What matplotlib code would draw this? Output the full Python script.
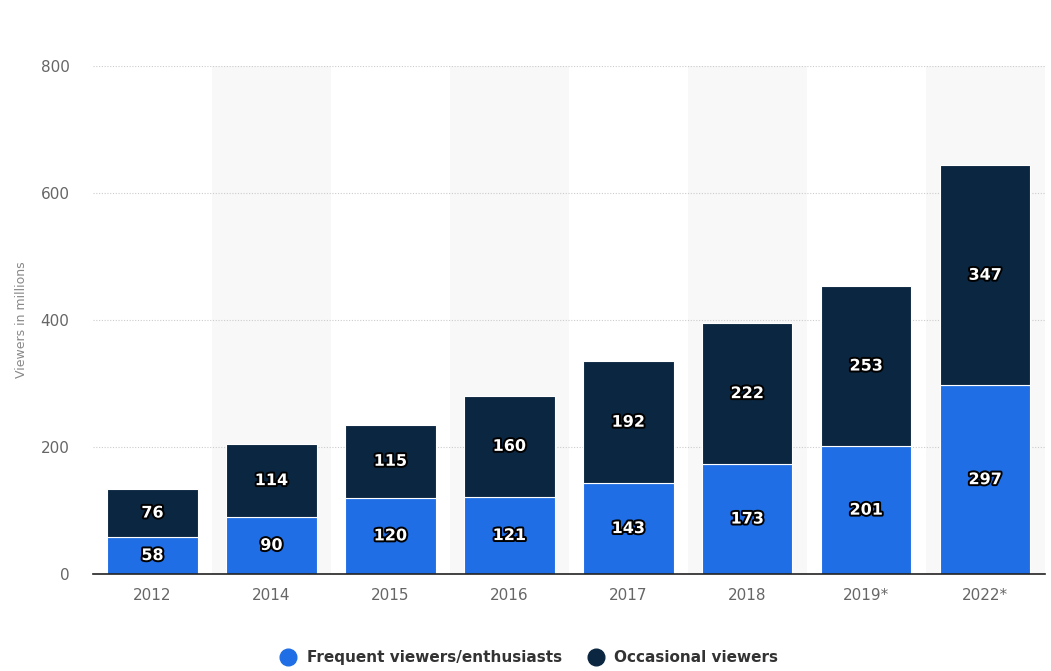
import matplotlib.pyplot as plt
import matplotlib.patheffects as pe
from matplotlib.lines import Line2D
import numpy as np

years = ['2012', '2014', '2015', '2016', '2017', '2018', '2019*', '2022*']
frequent = [58, 90, 120, 121, 143, 173, 201, 297]
occasional = [76, 114, 115, 160, 192, 222, 253, 347]

blue = '#1f6ee5'
navy = '#0b2640'

fig = plt.figure(figsize=(10.51, 6.71), dpi=100)
ax = fig.add_axes([0.0885, 0.1446, 0.9055, 0.757])

x = np.arange(len(years))

# alternating background bands
for i in x:
    if i % 2 == 1:
        ax.axvspan(i - 0.5, i + 0.5, color='#f8f8f8', zorder=0, lw=0)

ax.yaxis.grid(True, linestyle=(0, (1, 1.5)), color='#cccccc', linewidth=0.8, zorder=1)
ax.set_axisbelow(True)

w = 0.76
ax.bar(x, frequent, w, color=blue, edgecolor='white', linewidth=0.8, zorder=2,
       label='Frequent viewers/enthusiasts')
ax.bar(x, occasional, w, bottom=frequent, color=navy, edgecolor='white', linewidth=0.8,
       zorder=2, label='Occasional viewers')

stroke = [pe.withStroke(linewidth=2.8, foreground='black')]
for i in x:
    ax.text(i, frequent[i] / 2, str(frequent[i]), ha='center', va='center', color='white',
            fontsize=11.5, fontweight='bold', path_effects=stroke, zorder=3)
    ax.text(i, frequent[i] + occasional[i] / 2, str(occasional[i]), ha='center', va='center',
            color='white', fontsize=11.5, fontweight='bold', path_effects=stroke, zorder=3)

ax.set_xlim(-0.5, len(years) - 0.5)
ax.set_ylim(0, 800)
ax.set_yticks([0, 200, 400, 600, 800])
ax.set_xticks(x)
ax.set_xticklabels(years)
ax.tick_params(axis='both', length=0, colors='#666666', labelsize=11)
ax.tick_params(axis='y', pad=17)
ax.tick_params(axis='x', pad=10)
for s in ['top', 'right', 'left']:
    ax.spines[s].set_visible(False)
ax.spines['bottom'].set_color('#222222')
ax.spines['bottom'].set_linewidth(1.2)
ax.spines['bottom'].set_zorder(4)

ax.set_ylabel('Viewers in millions', color='#888888', fontsize=9, labelpad=9)

handles = [Line2D([], [], marker='o', linestyle='', markersize=12, color=blue),
           Line2D([], [], marker='o', linestyle='', markersize=12, color=navy)]
fig.legend(handles, ['Frequent viewers/enthusiasts', 'Occasional viewers'],
           loc='center', bbox_to_anchor=(0.5, 0.02), ncol=2, frameon=False,
           prop={'weight': 'bold', 'size': 11}, labelcolor='#333333',
           handletextpad=0.2, columnspacing=1.2)

fig.savefig('out.png', dpi=100)
